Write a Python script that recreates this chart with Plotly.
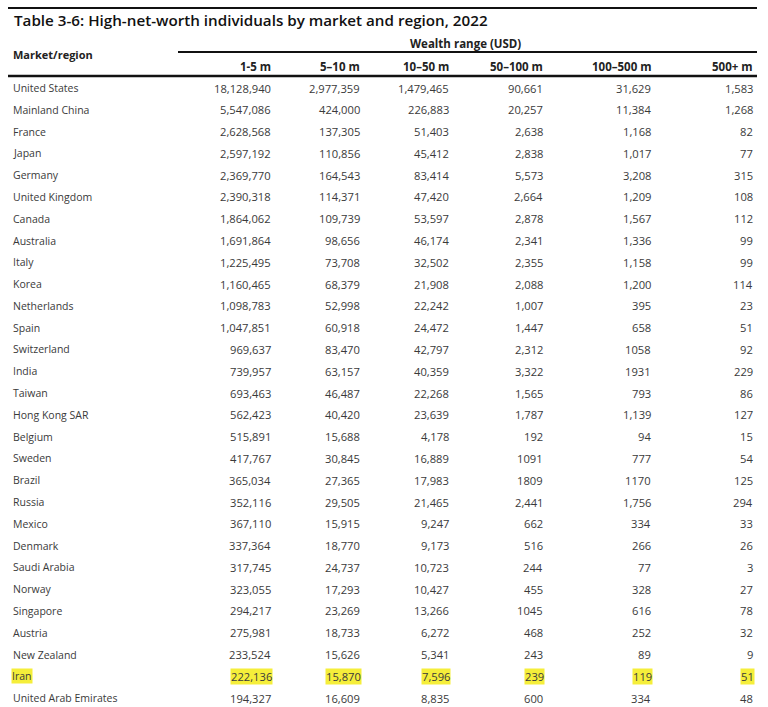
import plotly.graph_objects as go

title = "Table 3-6: High-net-worth individuals by market and region, 2022"
group_header = "Wealth range (USD)"
row_header = "Market/region"
col_labels = ["1-5 m", "5–10 m", "10–50 m", "50–100 m", "100–500 m", "500+ m"]

countries = ["United States", "Mainland China", "France", "Japan", "Germany", "United Kingdom",
             "Canada", "Australia", "Italy", "Korea", "Netherlands", "Spain", "Switzerland",
             "India", "Taiwan", "Hong Kong SAR", "Belgium", "Sweden", "Brazil", "Russia",
             "Mexico", "Denmark", "Saudi Arabia", "Norway", "Singapore", "Austria",
             "New Zealand", "Iran", "United Arab Emirates"]

r_1_5 = ["18,128,940", "5,547,086", "2,628,568", "2,597,192", "2,369,770", "2,390,318",
         "1,864,062", "1,691,864", "1,225,495", "1,160,465", "1,098,783", "1,047,851", "969,637",
         "739,957", "693,463", "562,423", "515,891", "417,767", "365,034", "352,116",
         "367,110", "337,364", "317,745", "323,055", "294,217", "275,981",
         "233,524", "222,136", "194,327"]
r_5_10 = ["2,977,359", "424,000", "137,305", "110,856", "164,543", "114,371",
          "109,739", "98,656", "73,708", "68,379", "52,998", "60,918", "83,470",
          "63,157", "46,487", "40,420", "15,688", "30,845", "27,365", "29,505",
          "15,915", "18,770", "24,737", "17,293", "23,269", "18,733",
          "15,626", "15,870", "16,609"]
r_10_50 = ["1,479,465", "226,883", "51,403", "45,412", "83,414", "47,420",
           "53,597", "46,174", "32,502", "21,908", "22,242", "24,472", "42,797",
           "40,359", "22,268", "23,639", "4,178", "16,889", "17,983", "21,465",
           "9,247", "9,173", "10,723", "10,427", "13,266", "6,272",
           "5,341", "7,596", "8,835"]
r_50_100 = ["90,661", "20,257", "2,638", "2,838", "5,573", "2,664",
            "2,878", "2,341", "2,355", "2,088", "1,007", "1,447", "2,312",
            "3,322", "1,565", "1,787", "192", "1091", "1809", "2,441",
            "662", "516", "244", "455", "1045", "468",
            "243", "239", "600"]
r_100_500 = ["31,629", "11,384", "1,168", "1,017", "3,208", "1,209",
             "1,567", "1,336", "1,158", "1,200", "395", "658", "1058",
             "1931", "793", "1,139", "94", "777", "1170", "1,756",
             "334", "266", "77", "328", "616", "252",
             "89", "119", "334"]
r_500p = ["1,583", "1,268", "82", "77", "315", "108",
          "112", "99", "99", "114", "23", "51", "92",
          "229", "86", "127", "15", "54", "125", "294",
          "33", "26", "3", "27", "78", "32",
          "9", "51", "48"]
highlighted = ["Iran"]

columns = [r_1_5, r_5_10, r_10_50, r_50_100, r_100_500, r_500p]

# ---- layout / style settings ----
W, H = 768, 707
FONT = "Open Sans"
col_right = [273, 362, 451, 545, 653, 755]
name_x = 11
row_y0 = 88
row_dy = 21.79
body_color = "#3a3a3a"
head_color = "#222222"
hl_color = "#f5ee3a"

fig = go.Figure()
fig.add_trace(go.Scatter(x=[], y=[], hoverinfo="skip", showlegend=False))

ann = []
ann.append(dict(x=12, y=20, text=title, xanchor="left", yanchor="middle",
                font=dict(family=FONT, size=15.2, color="#111111", weight=600)))
ann.append(dict(x=11, y=54, text=row_header, xanchor="left", yanchor="middle",
                font=dict(family=FONT, size=11, color=head_color, weight=700)))
ann.append(dict(x=(178 + 757) / 2 - 2, y=43, text=group_header, xanchor="center", yanchor="middle",
                font=dict(family=FONT, size=11.5, color=head_color, weight=700)))
for j, lab in enumerate(col_labels):
    ann.append(dict(x=col_right[j], y=66, text=lab, xanchor="right", yanchor="middle",
                    font=dict(family=FONT, size=11.5, color=head_color, weight=700)))

for i, c in enumerate(countries):
    y = row_y0 + i * row_dy
    hl = c in highlighted
    extra = dict(bgcolor=hl_color, borderpad=0) if hl else {}
    ann.append(dict(x=name_x, y=y, text=c, xanchor="left", yanchor="middle",
                    font=dict(family=FONT, size=10.5, color=body_color), **extra))
    for j, col in enumerate(columns):
        ann.append(dict(x=col_right[j], y=y, text=col[i], xanchor="right", yanchor="middle",
                        font=dict(family=FONT, size=11.2, color=body_color), **extra))

for a in ann:
    a.update(xref="x", yref="y", showarrow=False)

shapes = [
    dict(type="line", xref="x", yref="y", x0=8, x1=757, y0=8, y1=8,
         line=dict(color="#111111", width=2)),
    dict(type="line", xref="x", yref="y", x0=178, x1=757, y0=52, y1=52,
         line=dict(color="#111111", width=2)),
    dict(type="line", xref="x", yref="y", x0=8, x1=757, y0=76, y1=76,
         line=dict(color="#111111", width=2.5)),
]

fig.update_layout(
    width=W, height=H,
    margin=dict(l=0, r=0, t=0, b=0),
    paper_bgcolor="white", plot_bgcolor="white",
    xaxis=dict(range=[0, W], visible=False, fixedrange=True),
    yaxis=dict(range=[H, 0], visible=False, fixedrange=True),
    annotations=ann, shapes=shapes, showlegend=False,
)

fig.write_html(
    "out.html",
    config=dict(displayModeBar=False),
    post_script="document.body.style.margin='0';document.body.style.overflow='hidden';",
)
